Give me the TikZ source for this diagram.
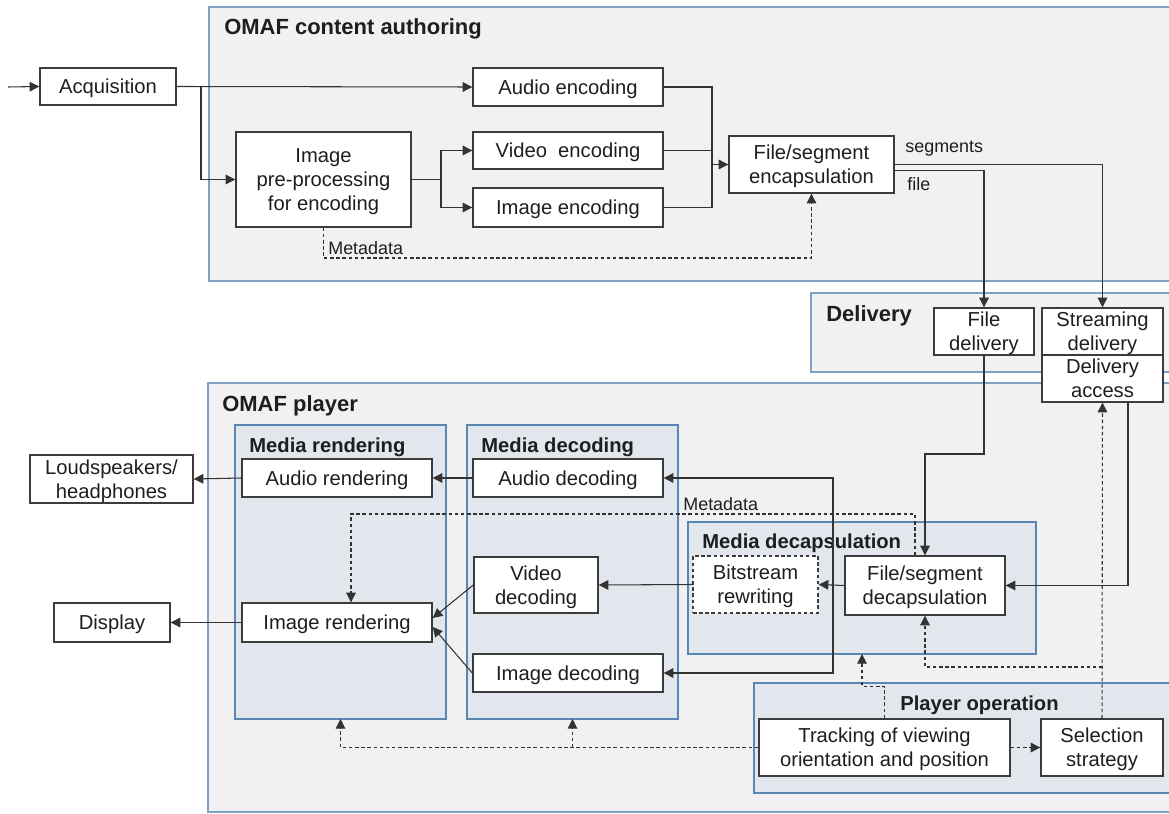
\documentclass[tikz,border=0pt]{standalone}
\usepackage{fontspec}
\setmainfont{Liberation Sans}
\usetikzlibrary{arrows.meta,fit,calc}
\definecolor{outerfill}{HTML}{F1F1F1}
\definecolor{outerline}{HTML}{7FA1C4}
\definecolor{innerfill}{HTML}{E2E7EE}
\definecolor{innerline}{HTML}{5A86B3}
\definecolor{boxline}{HTML}{3C3C3C}
\definecolor{wire}{HTML}{333333}
\definecolor{ink}{HTML}{1E1E1E}
% box from corner (x1,y1) to corner (x2,y2), in pixel-like units
\newcommand\bx[7][box]{%
  \node[#1,minimum width={(#5-#3)*0.02cm},minimum height={(#6-#4)*0.02cm}]
    (#2) at ({(#3+#5)/2},{(#4+#6)/2}) {#7};}
\begin{document}
\begin{tikzpicture}[x=0.02cm,y=-0.02cm,
  outergrp/.style={draw=outerline,fill=outerfill,line width=1pt},
  innergrp/.style={draw=innerline,fill=innerfill,line width=1pt},
  grp/.style={inner sep=0pt,outer sep=0pt},
  box/.style={draw=boxline,fill=white,line width=0.8pt,inner sep=0pt,align=center,
    text=ink,text depth=0pt,font=\fontsize{11.5}{13.6}\selectfont},
  dbox/.style={box,dashed,dash pattern=on 2pt off 1.5pt},
  title/.style={anchor=base west,inner sep=0pt,text=ink,font=\fontsize{12.5}{15}\selectfont\bfseries},
  subtitle/.style={anchor=base west,inner sep=0pt,text=ink,font=\fontsize{11.5}{14}\selectfont\bfseries},
  small/.style={anchor=base west,inner sep=0pt,text=ink,font=\fontsize{10.2}{12}\selectfont},
  arr/.style={draw=wire,line width=0.6pt,-{Triangle[length=5.5pt,width=5.5pt]}},
  wline/.style={draw=wire,line width=0.6pt},
  darr/.style={arr,dash pattern=on 2pt off 1.5pt},
]
\useasboundingbox (0,0) rectangle (1169,814);
\clip (0,0) rectangle (1169,814);

% ---- group frames ----
\node[grp,outergrp,fit={(209,7) (1190,281)}] (auth) {};
\node[grp,outergrp,fit={(811,293) (1190,372)}] (deliv) {};
\node[grp,outergrp,fit={(208,383) (1190,812)}] (player) {};
\node[grp,innergrp,fit={(235,425) (446,719)}] (mrend) {};
\node[grp,innergrp,fit={(467,425) (678,719)}] (mdec) {};
\node[grp,innergrp,fit={(688,522) (1036,654)}] (mdecap) {};
\node[grp,innergrp,fit={(754,683) (1190,793)}] (pop) {};

\node[title] (tauth) at (224,35) {OMAF content authoring};
\node[title] (tdeliv) at (826,321) {Delivery};
\node[title] (tplayer) at (222,411) {OMAF player};
\node[subtitle] (tmrend) at (249,452) {Media rendering};
\node[subtitle] (tmdec) at (481,452) {Media decoding};
\node[subtitle] (tmdecap) at (702,548) {Media decapsulation};
\node[subtitle] (tpop) at (900,710) {Player operation};

% ---- authoring ----
\bx{acq}{40}{68}{176}{105}{Acquisition}
\bx{audioenc}{473}{68}{663}{106}{Audio encoding}
\bx{prep}{236}{132}{411}{227}{Image\\pre-processing\\for encoding}
\bx{videnc}{473}{132}{663}{169}{Video~ encoding}
\bx{imgenc}{473}{188}{663}{227}{Image encoding}
\bx{encap}{729}{136}{894}{193}{File/segment\\encapsulation}

% ---- delivery ----
\bx{filedel}{934}{308}{1034}{355}{File\\delivery}
\bx{streamdel}{1042}{308}{1163}{355}{Streaming\\delivery}
\bx{delacc}{1042}{355}{1163}{402}{Delivery\\access}

% ---- player ----
\bx{spk}{30}{455}{193}{503}{Loudspeakers/\\headphones}
\bx{disp}{54}{603}{170}{642}{Display}
\bx{audrend}{242}{459}{432}{497}{Audio rendering}
\bx{imgrend}{242}{603}{432}{642}{Image rendering}
\bx{audiodec}{473}{459}{663}{497}{Audio decoding}
\bx{viddec}{474}{557}{598}{613}{Video\\decoding}
\bx{imgdec}{473}{654}{663}{692}{Image decoding}
\bx[dbox]{bitrw}{693}{556}{818}{613}{Bitstream\\rewriting}
\bx{fsdec}{845}{556}{1005}{615}{File/segment\\decapsulation}
\bx{track}{759}{719}{1010}{776}{Tracking of viewing\\orientation and position}
\bx{sel}{1041}{719}{1163}{776}{Selection\\strategy}

% ---- small labels ----
\node[small] (lmeta1) at (328,255) {Metadata};
\node[small] (lseg) at (905,153) {segments};
\node[small] (lfile) at (907,191) {file};
\node[small] (lmeta2) at (683,510) {Metadata};

% ---- authoring connectors ----
\coordinate (in) at (8,87);
\coordinate (j1) at (201,87);
\coordinate (j2) at (441,179.5);
\coordinate (j3) at (712,164.5);
\coordinate (m1) at (323.5,258);
\draw[arr] (in) -- (acq.west);
\draw[arr] (acq.east) -- (audioenc.west);
\draw[arr] (j1) |- (prep.west);
\draw[wline] (prep.east) -- (j2);
\draw[arr] (j2) |- (videnc.west);
\draw[arr] (j2) |- (imgenc.west);
\draw[wline] (audioenc.east) -| (j3);
\draw[wline] (imgenc.east) -| (j3);
\draw[wline] (videnc.east) -- (videnc.east -| j3);
\draw[arr] (j3) -- (encap.west);
\draw[darr] (prep.south) -- (m1) -| (encap.south);
\draw[arr] (encap.east) -| (streamdel.north);
\draw[arr] ($(encap.east)+(0,6)$) -| (filedel.north);

% ---- delivery to player ----
\coordinate (j4) at (925,454);
\draw[arr] (filedel.south) |- (j4) -- (fsdec.north);
\draw[arr] ($(delacc.south)+(25.5,0)$) |- (fsdec.east);
\coordinate (j5) at (1102.5,667);
\draw[darr] (sel.north) -- (delacc.south);
\draw[darr] (j5) -| (fsdec.south);

% ---- decapsulation / decoding / rendering ----
\coordinate (j6) at (833,585.5);
\draw[arr] (fsdec.west) -- (bitrw.east);
\draw[arr] (j6) |- (audiodec.east);
\draw[arr] (j6) |- (imgdec.east);
\draw[arr] (bitrw.west) -- (viddec.east);
\draw[arr] (audiodec.west) -- (audrend.east);
\draw[arr] (audrend.west) -- (spk.east);
\draw[arr] (imgrend.west) -- (disp.east);
\draw[arr] (viddec.west) -- ($(imgrend.east)+(0,-4.5)$);
\draw[arr] (imgdec.west) -- ($(imgrend.east)+(0,4.5)$);
\coordinate (m2) at (915,514);
\draw[darr] ($(fsdec.north)+(-10,0)$) -- (m2) -| ($(imgrend.north)+(14,0)$);

% ---- player operation ----
\draw[darr] (track.east) -- (sel.west);
\draw[darr] (track.west) -| (mrend.south);
\draw[darr] (track.west -| mdec.south) -- (mdec.south);
\draw[darr] (track.north) -- ++(0,-32) -| (mdecap.south);
\end{tikzpicture}
\end{document}
